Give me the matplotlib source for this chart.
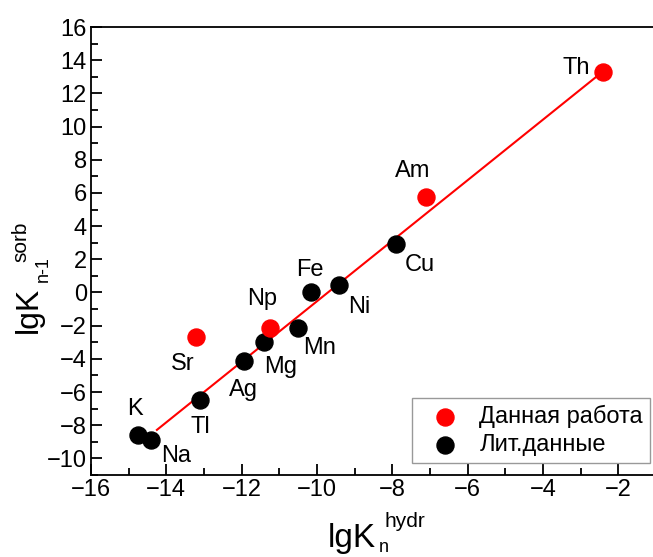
import matplotlib.pyplot as plt
from matplotlib.ticker import MultipleLocator

plt.rcParams["font.family"] = ["Liberation Sans", "DejaVu Sans"]

# this work (red)
red_names = ["Sr", "Np", "Am", "Th"]
red_x = [-13.2, -11.25, -7.1, -2.42]
red_y = [-2.7, -2.15, 5.75, 13.3]

# literature data (black)
black_names = ["K", "Na", "Tl", "Ag", "Mg", "Mn", "Fe", "Ni", "Cu"]
black_x = [-14.75, -14.4, -13.1, -11.95, -11.4, -10.5, -10.15, -9.42, -7.9]
black_y = [-8.6, -8.9, -6.5, -4.1, -3.0, -2.15, 0.05, 0.45, 2.95]

# regression line ends
fit_x = [-14.25, -2.42]
fit_y = [-8.28, 13.3]

# label offsets (pixels)
offsets = {
    "Th": (-26, 4), "Am": (-14, 26), "Cu": (24, -21), "Ni": (20, -22),
    "Fe": (-1, 22), "Mn": (21, -20), "Np": (-8, 29), "Mg": (16, -25),
    "Ag": (0, -29), "Sr": (-14, -27), "Tl": (0, -27), "K": (-3, 26),
    "Na": (25, -16),
}

W, H = 653, 557
fig = plt.figure(figsize=(W / 100, H / 100), dpi=100)
ax = fig.add_axes([91 / W, 1 - 475 / H, 565 / W, 448 / H])

ax.plot(fit_x, fit_y, color="red", lw=1.5, zorder=2)
ax.scatter(black_x, black_y, s=150, color="black", zorder=3, label="Лит.данные")
ax.scatter(red_x, red_y, s=150, color="red", zorder=3, label="Данная работа")

for names, xs, ys in [(red_names, red_x, red_y), (black_names, black_x, black_y)]:
    for n, x, y in zip(names, xs, ys):
        ax.annotate(n, (x, y), xytext=offsets[n], textcoords="offset pixels",
                    ha="center", va="center", fontsize=17)

ax.set_xlim(-16, -1.0)
ax.set_ylim(-11, 16)
ax.xaxis.set_major_locator(MultipleLocator(2))
ax.xaxis.set_minor_locator(MultipleLocator(1))
ax.yaxis.set_major_locator(MultipleLocator(2))
ax.yaxis.set_minor_locator(MultipleLocator(1))
ax.tick_params(which="both", direction="in", labelsize=17, width=1.3, pad=3)
ax.tick_params(which="major", length=8)
ax.tick_params(which="minor", length=5)
for s in ax.spines.values():
    s.set_linewidth(1.3)

# axis titles built from pieces (sub/superscripts placed like the original)
fig.text(328 / W, 1 - 547 / H, "lgK", fontsize=24, ha="left", va="baseline")
fig.text(379 / W, 1 - 552 / H, "n", fontsize=13, ha="left", va="baseline")
fig.text(385 / W, 1 - 527 / H, "hydr", fontsize=15, ha="left", va="baseline")

fig.text(37 / W, 1 - 333 / H, "lgK", fontsize=23, rotation=90,
         rotation_mode="anchor", ha="left", va="baseline")
fig.text(48 / W, 1 - 282 / H, "n-1", fontsize=13, rotation=90,
         rotation_mode="anchor", ha="left", va="baseline")
fig.text(26 / W, 1 - 262 / H, "sorb", fontsize=15, rotation=90,
         rotation_mode="anchor", ha="left", va="baseline")

h, l = ax.get_legend_handles_labels()
leg = ax.legend(h[::-1], l[::-1], loc="lower right",
                bbox_to_anchor=(650 / W, 1 - 463 / H), bbox_transform=fig.transFigure,
                borderaxespad=0, fontsize=17, fancybox=False, edgecolor="gray",
                handletextpad=0.35, borderpad=0.3, labelspacing=0.25, handlelength=2.2)
leg.get_frame().set_linewidth(1.0)

fig.savefig("out.png", dpi=100)
